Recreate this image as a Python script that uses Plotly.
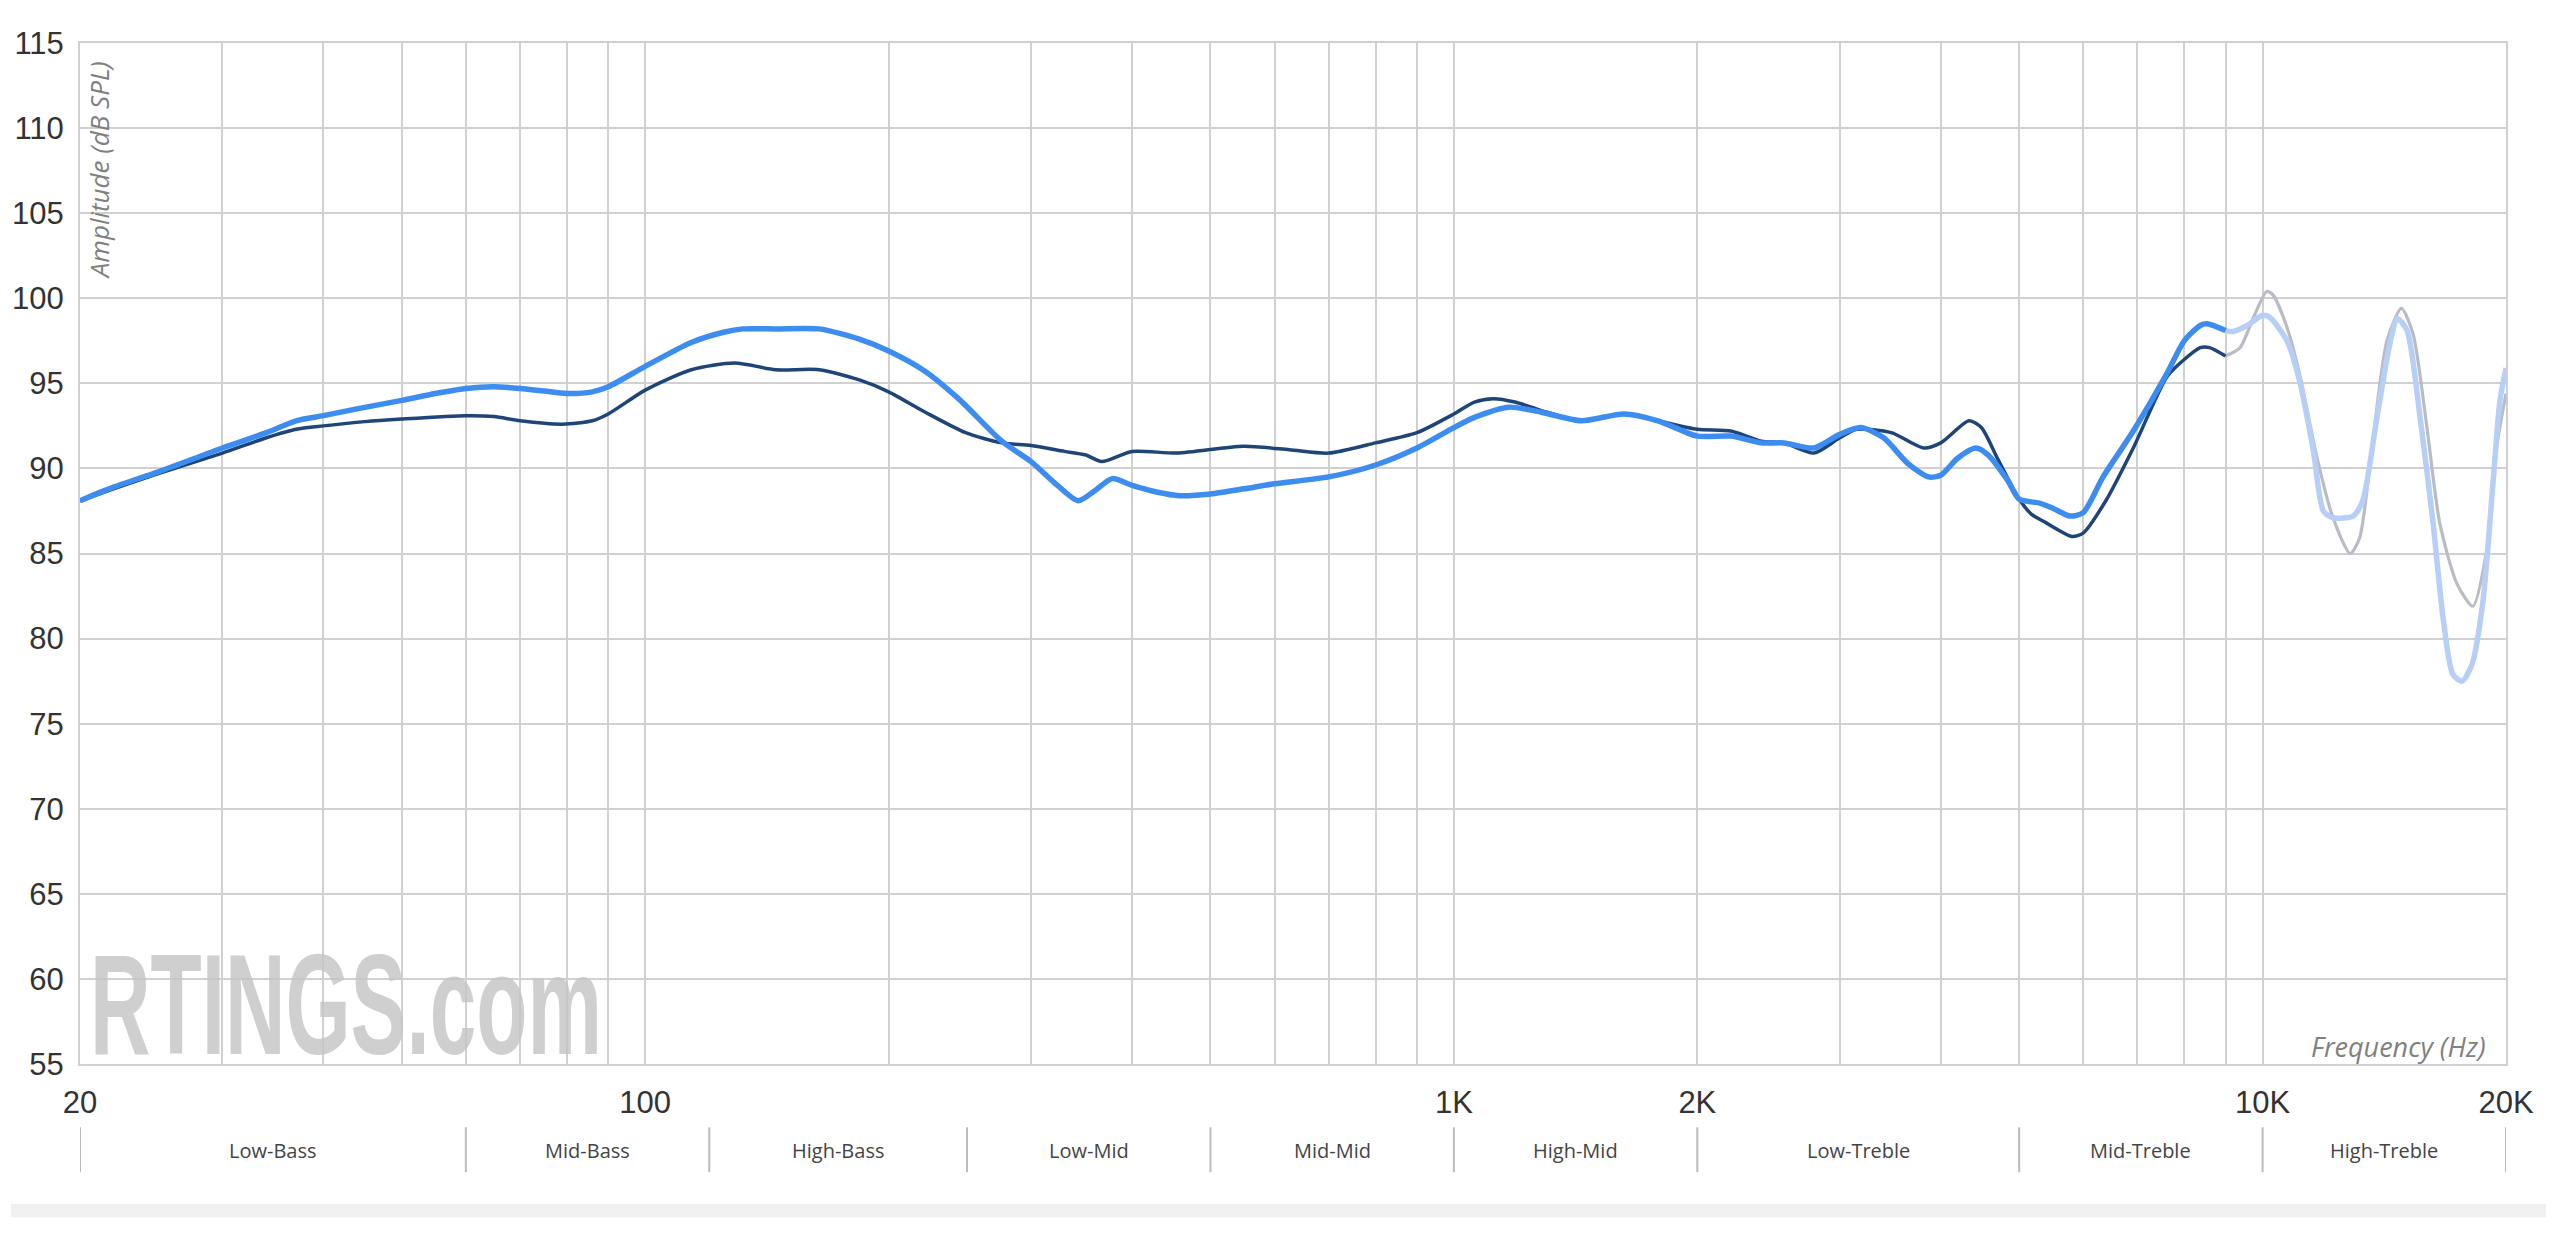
import numpy as np
import plotly.graph_objects as go

# ---------------- data ----------------
freq_blue = [20, 22, 25, 30, 34, 37, 40, 44, 50, 55, 60, 65, 70, 75, 80, 86, 90, 100, 114, 125, 132,
             145, 164, 184, 200, 222, 244, 276, 300, 320, 343, 360, 378, 400, 430, 458, 500, 550, 600,
             700, 800, 900, 1000, 1060, 1170, 1283, 1437, 1623, 1787, 2000, 2200, 2400, 2560, 2787,
             3000, 3185, 3400, 3640, 3863, 4000, 4196, 4420, 4575, 4840, 5000, 5310, 5510, 5780, 6000,
             6350, 6920, 7620, 8000, 8375, 8540, 9000]
db_blue = [88.1, 88.9, 89.8, 91.2, 92.1, 92.8, 93.1, 93.5, 94.0, 94.4, 94.7, 94.8, 94.7, 94.55, 94.4,
           94.5, 94.8, 96.0, 97.4, 98.0, 98.2, 98.2, 98.2, 97.6, 96.9, 95.7, 94.1, 91.6, 90.4, 89.2,
           88.1, 88.7, 89.4, 89.0, 88.6, 88.4, 88.5, 88.8, 89.1, 89.5, 90.2, 91.2, 92.4, 93.0, 93.6,
           93.3, 92.8, 93.2, 92.8, 91.9, 91.9, 91.5, 91.5, 91.2, 92.0, 92.4, 91.8, 90.3, 89.5, 89.6,
           90.6, 91.2, 90.8, 89.3, 88.2, 87.95, 87.65, 87.2, 87.4, 89.5, 92.2, 95.6, 97.5, 98.4, 98.5,
           98.1]

freq_blue_hi = [9000, 9200, 9570, 10000, 10200, 10720, 11130, 11550, 11890, 12220, 12940, 13300,
                13850, 14380, 14680, 15090, 15660, 16250, 16720, 17190, 17650, 18160, 18730, 19270,
                19660, 20000]
db_blue_hi = [98.1, 98.05, 98.4, 99.0, 98.9, 97.5, 95.0, 91.1, 87.5, 87.1, 87.2, 88.1, 93.0, 97.4,
              98.8, 98.1, 93.0, 86.8, 81.2, 77.9, 77.5, 78.5, 82.2, 89.1, 94.0, 95.9]

freq_navy = [20, 22, 25, 30, 34, 37, 40, 45, 50, 60, 65, 70, 79, 86, 90, 100, 114, 129, 145, 164, 184,
             200, 222, 249, 276, 300, 330, 350, 367, 400, 455, 549, 626, 700, 800, 900, 1000, 1060,
             1119, 1190, 1283, 1437, 1623, 1787, 2000, 2200, 2400, 2560, 2787, 3000, 3150, 3474, 3810,
             4000, 4335, 4490, 4700, 5000, 5180, 5400, 5810, 6000, 6400, 6920, 7620, 8000, 8375, 8600,
             9000]
db_navy = [88.1, 88.8, 89.7, 90.9, 91.8, 92.3, 92.5, 92.75, 92.9, 93.1, 93.05, 92.8, 92.6, 92.8, 93.2,
           94.6, 95.8, 96.2, 95.8, 95.8, 95.2, 94.5, 93.3, 92.1, 91.5, 91.35, 91.0, 90.8, 90.4, 91.0,
           90.9, 91.3, 91.1, 90.9, 91.5, 92.1, 93.2, 93.9, 94.1, 93.9, 93.4, 92.8, 93.2, 92.8, 92.3,
           92.2, 91.6, 91.5, 90.9, 91.8, 92.3, 92.1, 91.2, 91.5, 92.8, 92.4, 90.6, 88.2, 87.3, 86.8,
           86.0, 86.2, 88.1, 91.2, 95.4, 96.4, 97.1, 97.1, 96.6]

freq_grey = [9000, 9380, 9750, 10120, 10300, 10720, 11130, 11680, 12220, 12830, 13180, 13700, 14250,
             14850, 15350, 15950, 16560, 17400, 18200, 18930, 19450, 20000]
db_grey = [96.6, 97.1, 98.9, 100.4, 100.2, 98.3, 95.4, 90.6, 87.1, 85.0, 85.9, 91.8, 97.5, 99.4, 97.9,
           92.6, 86.8, 83.2, 81.9, 85.2, 91.1, 94.4]

grid_freqs = [20, 30, 40, 50, 60, 70, 80, 90, 100, 200, 300, 400, 500, 600, 700, 800, 900,
              1000, 2000, 3000, 4000, 5000, 6000, 7000, 8000, 9000, 10000, 20000]
labelled_freqs = {20: "20", 100: "100", 1000: "1K", 2000: "2K", 10000: "10K", 20000: "20K"}

band_edges = [20, 60, 120, 250, 500, 1000, 2000, 5000, 10000, 20000]
band_names = ["Low-Bass", "Mid-Bass", "High-Bass", "Low-Mid", "Mid-Mid", "High-Mid",
              "Low-Treble", "Mid-Treble", "High-Treble"]

y_ticks = list(range(55, 116, 5))

# ---------------- figure ----------------
BLUE = "#3d8cf0"
NAVY = "#1e4478"
LIGHT_BLUE = "#b7cff6"
GREY = "#b9bcc4"

fig = go.Figure()
fig.add_trace(go.Scatter(x=freq_grey, y=db_grey, mode="lines",
                         line=dict(color=GREY, width=3.2, shape="spline", smoothing=0.7),
                         hoverinfo="skip"))
fig.add_trace(go.Scatter(x=freq_blue_hi, y=db_blue_hi, mode="lines",
                         line=dict(color=LIGHT_BLUE, width=5.5, shape="spline", smoothing=0.7),
                         hoverinfo="skip"))
fig.add_trace(go.Scatter(x=freq_navy, y=db_navy, mode="lines",
                         line=dict(color=NAVY, width=3.5, shape="spline", smoothing=0.7)))
fig.add_trace(go.Scatter(x=freq_blue, y=db_blue, mode="lines",
                         line=dict(color=BLUE, width=5.5, shape="spline", smoothing=0.7)))

GRID = "#d0d0d0"
fig.update_xaxes(type="log", range=[np.log10(20), np.log10(20000)],
                 tickmode="array", tickvals=grid_freqs,
                 ticktext=[labelled_freqs.get(f, "") for f in grid_freqs],
                 showgrid=True, gridcolor=GRID, gridwidth=2,
                 showline=True, linecolor=GRID, linewidth=2, mirror=True,
                 zeroline=False, ticks="", ticklabelstandoff=10,
                 tickfont=dict(family="Liberation Sans, Arial, sans-serif", size=31, color="#333333"))
fig.update_yaxes(range=[55, 115], tickmode="array", tickvals=y_ticks,
                 ticktext=[str(v) for v in y_ticks],
                 showgrid=True, gridcolor=GRID, gridwidth=2,
                 showline=True, linecolor=GRID, linewidth=2, mirror=True,
                 zeroline=False, ticks="", ticklabelstandoff=8,
                 tickfont=dict(family="Liberation Sans, Arial, sans-serif", size=31, color="#333333"))

annotations = []
shapes = []
# band separators and labels
for e in band_edges:
    shapes.append(dict(type="line", xref="x", yref="paper", x0=e, x1=e, y0=-0.062, y1=-0.106,
                       line=dict(color="#bbbbbb", width=2)))
for i, name in enumerate(band_names):
    c = 0.5 * (np.log10(band_edges[i]) + np.log10(band_edges[i + 1]))
    annotations.append(dict(xref="x", yref="paper", x=c, y=-0.085, text=name, showarrow=False,
                            xanchor="center", yanchor="middle",
                            font=dict(family="Open Sans, sans-serif", size=20, color="#444444")))
# grey strip under the bands
shapes.append(dict(type="rect", xref="paper", yref="paper", x0=-0.0284, x1=1.0165, y0=-0.150, y1=-0.137,
                   line=dict(width=0), fillcolor="#f0f0f0", layer="below"))

# axis titles inside the plot
annotations.append(dict(xref="paper", yref="paper", x=0.0, y=0.983, text="Amplitude (dB SPL)",
                        textangle=-90, showarrow=False, xanchor="left", yanchor="top", borderpad=0,
                        font=dict(family="Open Sans, sans-serif", size=26, color="#808080", style="italic")))
annotations.append(dict(xref="paper", yref="paper", x=0.9925, y=0.0175, text="Frequency (Hz)",
                        showarrow=False, xanchor="right", yanchor="middle",
                        font=dict(family="Open Sans, sans-serif", size=27, color="#808080", style="italic")))
# watermark
annotations.append(dict(xref="paper", yref="paper", x=0.0035, y=0.058, text="<b>RTINGS.com</b>",
                        showarrow=False, xanchor="left", yanchor="middle", opacity=0.8,
                        font=dict(family="Liberation Sans, Arial, sans-serif",
                                  size=142, color="#c4c4c4")))

fig.update_layout(width=2560, height=1238, autosize=False,
                  margin=dict(l=77, r=54, t=43, b=174),
                  paper_bgcolor="white", plot_bgcolor="white",
                  showlegend=False, annotations=annotations, shapes=shapes)

post = """
var gd = document.getElementById('{plot_id}');
function squeezeMark(){
  var ts = gd.querySelectorAll('text.annotation-text');
  ts.forEach(function(t){
    if (t.textContent.indexOf('RTINGS') === 0) {
      t.style.transformBox = 'fill-box';
      t.style.transformOrigin = '0% 50%';
      t.style.transform = 'scaleX(0.59)';
    }
  });
}
squeezeMark();
gd.on('plotly_afterplot', squeezeMark);
"""

fig.write_html("out.html", post_script=post)
